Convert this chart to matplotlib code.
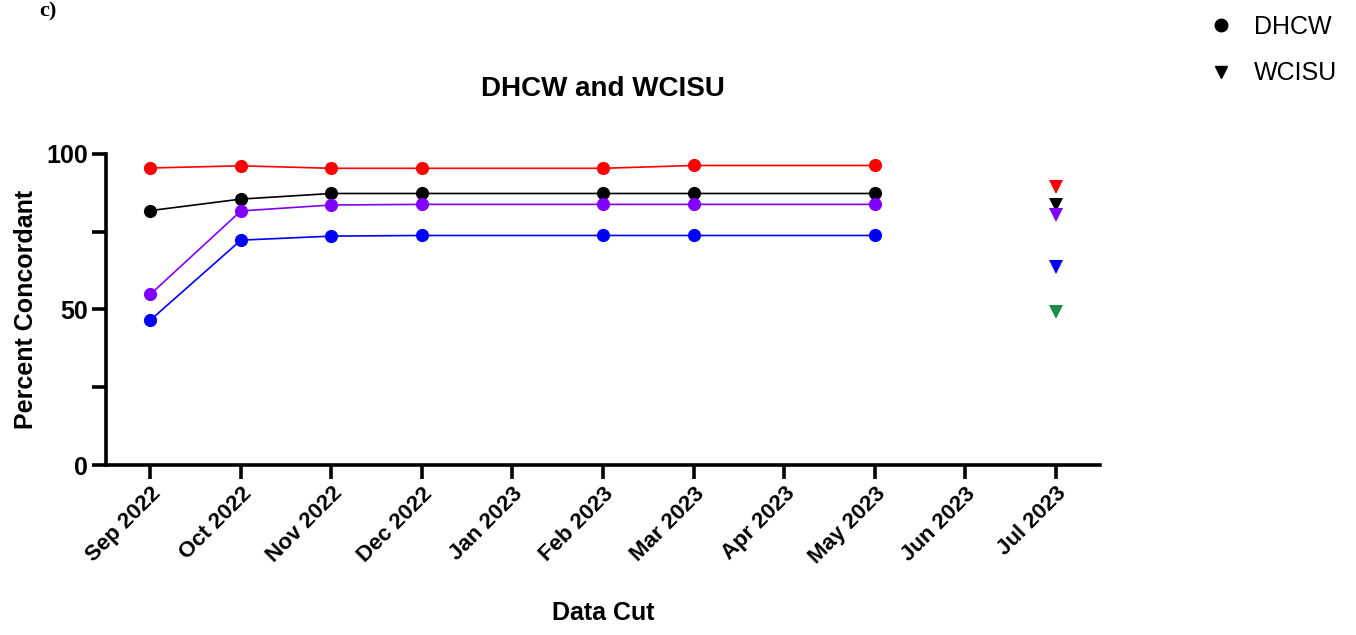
"""Percent concordant by data cut, DHCW vs WCISU."""

import matplotlib

matplotlib.use("Agg")
import matplotlib.pyplot as plt
from matplotlib.lines import Line2D
from matplotlib.ticker import MultipleLocator

plt.rcParams["font.family"] = ["Liberation Sans", "DejaVu Sans"]

# Month categories on the x axis
months = ["Sep 2022", "Oct 2022", "Nov 2022", "Dec 2022", "Jan 2023",
          "Feb 2023", "Mar 2023", "Apr 2023", "May 2023", "Jun 2023", "Jul 2023"]

# DHCW data cuts (no Jan, Apr)
dhcw_months = ["Sep 2022", "Oct 2022", "Nov 2022", "Dec 2022",
               "Feb 2023", "Mar 2023", "May 2023"]
dhcw_red = [95.5, 96.2, 95.4, 95.4, 95.4, 96.3, 96.3]
dhcw_black = [81.8, 85.5, 87.3, 87.3, 87.3, 87.3, 87.3]
dhcw_purple = [54.9, 81.7, 83.6, 83.8, 83.8, 83.8, 83.8]
dhcw_blue = [46.6, 72.3, 73.6, 73.8, 73.8, 73.8, 73.8]

# WCISU single data cut
wcisu_month = "Jul 2023"
wcisu_values = [89.5, 83.6, 80.4, 63.8, 49.3]
wcisu_colors = ["#ff0000", "#000000", "#8000ff", "#0000ff", "#1f8a4c"]

series_colors = ["#ff0000", "#000000", "#8000ff", "#0000ff"]

fig = plt.figure(figsize=(13.56, 6.35), dpi=100)
ax = fig.add_axes([0.0782, 0.2677, 0.733, 0.4898])

xpos = [months.index(m) for m in dhcw_months]
for vals, c in zip([dhcw_red, dhcw_black, dhcw_purple, dhcw_blue], series_colors):
    ax.plot(xpos, vals, color=c, linewidth=1.2, marker="o", markersize=9.5,
            markeredgewidth=0, zorder=3)

wx = months.index(wcisu_month)
for v, c in zip(wcisu_values, wcisu_colors):
    ax.plot([wx], [v], linestyle="none", marker="v", markersize=9.5,
            color=c, markeredgewidth=0, zorder=3)

ax.set_xlim(-0.49, len(months) - 1 + 0.49)
ax.set_ylim(0, 100)
ax.set_xticks(range(len(months)))
ax.set_xticklabels(months, rotation=45, ha="right", rotation_mode="anchor",
                   fontsize=16, fontweight="bold")
ax.yaxis.set_major_locator(MultipleLocator(50))
ax.yaxis.set_minor_locator(MultipleLocator(25))
for lbl in ax.get_yticklabels():
    lbl.set_fontsize(18)
    lbl.set_fontweight("bold")

for side in ("top", "right"):
    ax.spines[side].set_visible(False)
for side in ("left", "bottom"):
    ax.spines[side].set_linewidth(2.6)
ax.tick_params(axis="both", which="major", length=10, width=2.6, pad=3)
ax.tick_params(axis="y", which="minor", length=10, width=2.6)
ax.tick_params(axis="x", which="major", pad=3)

ax.set_ylabel("Percent Concordant", fontsize=18, fontweight="bold", labelpad=6)
ax.set_xlabel("Data Cut", fontsize=18, fontweight="bold", labelpad=24)
ax.set_title("DHCW and WCISU", fontsize=20, fontweight="bold", pad=42)

handles = [
    Line2D([], [], linestyle="none", marker="o", color="black", markersize=9),
    Line2D([], [], linestyle="none", marker="v", color="black", markersize=9),
]
fig.legend(handles, ["DHCW", "WCISU"], loc="upper right",
           bbox_to_anchor=(1.003, 1.012), frameon=False, fontsize=18,
           handletextpad=0.6, labelspacing=0.9, handlelength=1.5)

fig.text(0.035, 0.998, "c)", fontsize=16, fontweight="bold",
         family=["Liberation Serif", "DejaVu Serif"], va="top", ha="center")

fig.savefig("out.png", dpi=100)
plt.close(fig)
